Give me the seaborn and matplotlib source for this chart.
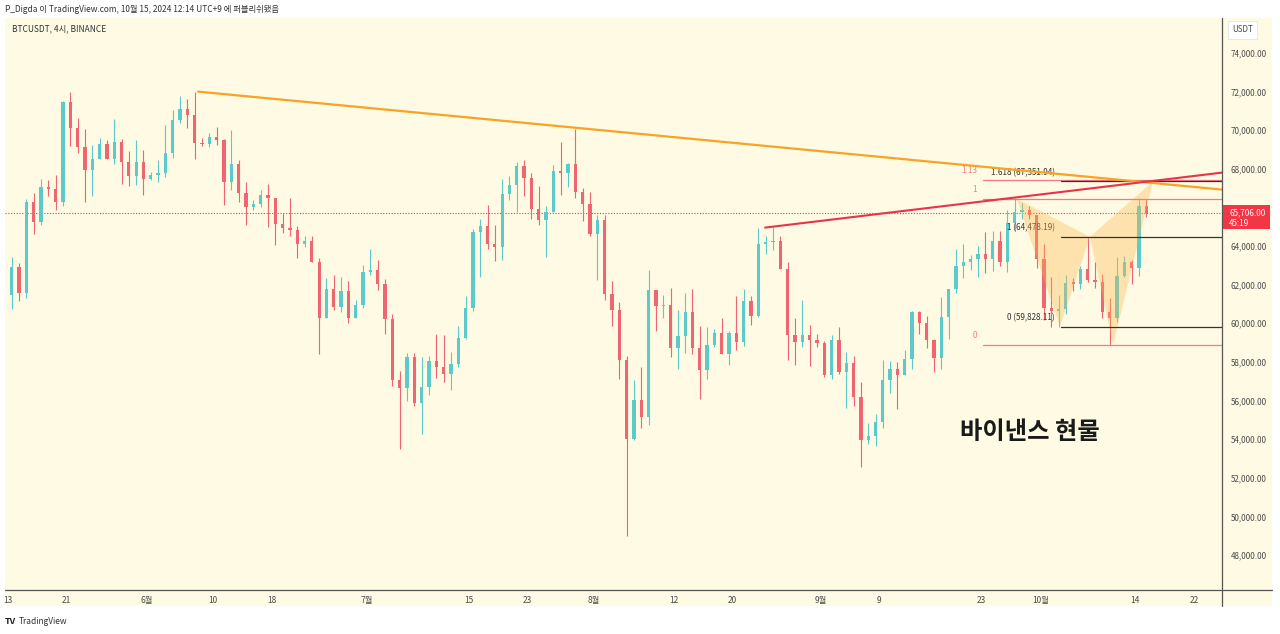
import numpy as np
import pandas as pd
import matplotlib
matplotlib.use("Agg")
import matplotlib.pyplot as plt
import matplotlib.dates as mdates
from matplotlib.patches import Rectangle, Polygon
from matplotlib.lines import Line2D
import seaborn as sns

# ==============================
# DATA  (daily OHLC)
# ==============================
dates = pd.date_range("2024-05-13", "2024-10-15", freq="D")

closes = [
    # May 13-31
    62940, 61580, 66270, 65230, 67050, 66940, 66280, 71450, 70140, 69120,
    67930, 68530, 69290, 68500, 69400, 68360, 67630, 68350, 67490,
    # June
    67700, 67760, 68800, 70550, 71080, 70790, 69350, 69300, 69650, 69500,
    67320, 68240, 66750, 66010, 66190, 66640, 66490, 65150, 64960, 64830,
    64100, 64250, 63180, 60280, 61800, 60860, 61670, 60300, 60930, 62680,
    # July
    62770, 62020, 60200, 57050, 56650, 58230, 55850, 56700, 58050, 57720,
    57350, 57900, 59230, 60790, 64720, 65040, 64090, 63970, 66680, 67150,
    68170, 67550, 65930, 65360, 65770, 67900, 67800, 68250, 66780, 66180, 64620,
    # August
    65350, 61500, 60680, 58100, 54020, 56040, 55130, 61700, 60880, 60940,
    58710, 59350, 60600, 58740, 57560, 58880, 59480, 58430, 59480, 59040,
    61160, 60380, 64100, 64200, 64250, 62830, 59420, 59030, 59370, 59120, 58970,
    # September
    57300, 59130, 57480, 57970, 56160, 53960, 54160, 54870, 57040, 57650,
    57340, 58130, 60570, 60000, 59130, 58210, 60310, 61760, 62950, 63200,
    63350, 63580, 63340, 64260, 63150, 65180, 65790, 65880, 65600, 63330,
    # October 1-15
    60800, 60630, 60750, 62090, 62060, 62820, 62220, 62130, 60580, 60270,
    62450, 63200, 62850, 66050, 65706,
]

highs = [
    63450, 63100, 66450, 66750, 67450, 67400, 67700, 71500, 71980, 70650,
    70050, 69250, 69580, 69500, 70600, 69550, 68900, 69500, 69000,
    67850, 68450, 70280, 71050, 71760, 71620, 71990, 69580, 69850, 70150,
    69560, 69990, 68450, 67300, 66400, 66900, 67190, 66500, 65720, 66480,
    65050, 64520, 64500, 63370, 62350, 62480, 62390, 62200, 61200, 63020,
    63860, 63300, 62280, 60500, 57550, 58480, 58470, 58240, 58300, 59450,
    59400, 58500, 59850, 61400, 64900, 65380, 66130, 65100, 67450, 67620,
    68370, 68480, 67800, 67100, 66100, 68200, 69400, 68300, 70080, 66990, 66800,
    65600, 65600, 62200, 61120, 58300, 57040, 57730, 62750, 61750, 61480,
    61850, 60700, 61580, 61800, 59850, 59800, 59700, 60250, 59600, 61400,
    61800, 61400, 64950, 64500, 65000, 64500, 63200, 60250, 61200, 59900, 59450,
    59060, 59400, 59800, 58500, 58300, 56980, 54850, 55300, 58100, 58040,
    57990, 58600, 60650, 60660, 60400, 59200, 61350, 61790, 63850, 64130,
    63560, 64000, 64740, 64800, 64800, 65850, 66500, 66250, 66080, 65620,
    64130, 62400, 61450, 62480, 62370, 62980, 64480, 63200, 62540, 61300,
    63420, 63480, 63280, 66480, 66420,
]

lows = [
    60750, 61150, 61330, 64600, 65100, 66600, 65850, 66060, 69160, 68840,
    66300, 66600, 68500, 68500, 68250, 67200, 67100, 67150, 66650,
    67400, 67300, 67600, 68560, 70380, 70120, 68500, 69200, 69150, 69230,
    66120, 66900, 66300, 65080, 65870, 66020, 65000, 64060, 64690, 64520,
    63380, 63940, 63180, 58400, 60250, 60710, 60600, 60000, 60300, 60780,
    62500, 61750, 59450, 56770, 53480, 56000, 55730, 54270, 56280, 57160,
    56960, 56570, 57750, 59200, 60650, 62400, 63870, 63240, 63300, 66400,
    65750, 66580, 65400, 65100, 63450, 65750, 66650, 67050, 66500, 65300, 64520,
    62250, 61200, 59850, 57120, 49000, 53960, 54560, 54750, 59600, 60280,
    58280, 57650, 58450, 58430, 56080, 57100, 58780, 58430, 57850, 58600,
    58800, 59900, 60350, 63600, 63800, 62800, 58100, 57850, 58750, 57800, 58780,
    57200, 57120, 57400, 55600, 55700, 52550, 53740, 53650, 54590, 56400,
    55550, 57330, 57630, 59450, 58700, 57500, 57620, 59200, 61580, 62350,
    62750, 62380, 62600, 62700, 62950, 62670, 64800, 65420, 65420, 62850,
    60160, 59830, 59830, 60460, 61670, 61800, 62120, 61850, 60300, 58900,
    60050, 62420, 62050, 62450, 65500,
]

first_open = 61480
opens = [first_open] + closes[:-1]

last_price = 65706
countdown = "45:19"

xtick_dates = ["2024-05-13", "2024-05-21", "2024-06-01", "2024-06-10", "2024-06-18",
               "2024-07-01", "2024-07-15", "2024-07-23", "2024-08-01", "2024-08-12",
               "2024-08-20", "2024-09-01", "2024-09-09", "2024-09-23", "2024-10-01",
               "2024-10-14", "2024-10-22"]
xtick_labels = ["13", "21", "6월", "10", "18", "7월", "15", "23", "8월", "12",
                "20", "9월", "9", "23", "10월", "14", "22"]
ytick_values = list(range(48000, 74001, 2000))

# trend lines
orange_x = ["2024-06-07 23:00", "2024-10-25 20:00"]
orange_y = [72000, 66925]
red_x = ["2024-08-24 10:00", "2024-10-25 20:00"]
red_y = [64957, 67805]

# harmonic pattern X-A-B-C-D
pattern_x = ["2024-09-27 19:00", "2024-10-03 17:00", "2024-10-07 19:00",
             "2024-10-10 23:00", "2024-10-16 10:00"]
pattern_y = [66450, 59828, 64478, 58895, 67352]

# fib levels
red_fib_start = "2024-09-23 05:00"
red_fib_labels = ["0", "1", "1.13"]
red_fib_prices = [58895, 66456, 67439]
blk_fib_start = "2024-10-03 20:00"
blk_fib_labels = ["0 (59,828.11)", "1 (64,478.19)", "1.618 (67,351.94)"]
blk_fib_prices = [59828.11, 64478.19, 67351.94]

x_left, x_right = "2024-05-12 14:00", "2024-10-25 20:00"
y_low, y_high = 46187, 75813

# ==============================
# STYLE
# ==============================
sns.set_style("white")
plt.rcParams['font.family'] = ['Noto Sans CJK KR', 'DejaVu Sans']

CREAM = "#fefae3"
UP = "#5cc9cb"
DOWN = "#ef6571"
TXT = "#4a4a4a"

W, H = 1280, 634
fig = plt.figure(figsize=(W / 100, H / 100), dpi=100, facecolor="white")


def fx(px):
    return px / W


def fy(py):
    return 1 - py / H


# cream chart panel (behind the axes)
fig.patches.append(Rectangle((fx(5), fy(606)), fx(1272) - fx(5), fy(18) - fy(606),
                             transform=fig.transFigure, facecolor=CREAM,
                             edgecolor="none", zorder=-5))

ax = fig.add_axes([fx(5), fy(590), fx(1222) - fx(5), fy(18) - fy(590)])
ax.set_facecolor(CREAM)
for s in ax.spines.values():
    s.set_visible(False)

tonum = lambda v: mdates.date2num(pd.to_datetime(v))

# ==============================
# CANDLES
# ==============================
x = mdates.date2num(dates) + 0.5
o = np.array(opens, dtype=float)
c = np.array(closes, dtype=float)
colors = np.where(c >= o, UP, DOWN)
ax.vlines(x, lows, highs, colors=colors, lw=0.8, zorder=2)
body = np.maximum(np.abs(c - o), 60)
ax.bar(x, body, bottom=np.minimum(o, c), width=0.45, color=colors,
       linewidth=0, zorder=3)

# current price dotted line
ax.axhline(last_price, color="#f23645", ls=(0, (1, 1.5)), lw=0.8, zorder=1)

# harmonic pattern fill
px_ = tonum(pattern_x)
for tri in [(0, 1, 2), (2, 3, 4)]:
    pts = [(px_[i], pattern_y[i]) for i in tri]
    ax.add_patch(Polygon(pts, closed=True, facecolor="#ffb74d", alpha=0.35,
                         edgecolor="none", zorder=4))

# trend lines
sns.lineplot(x=tonum(orange_x), y=orange_y, ax=ax, color="#f7a325", lw=1.6,
             zorder=6, legend=False)
sns.lineplot(x=tonum(red_x), y=red_y, ax=ax, color="#e8334a", lw=1.5,
             zorder=6, legend=False)

# fib levels
xr = tonum(x_right)
xs = tonum(red_fib_start)
for lab, p in zip(red_fib_labels, red_fib_prices):
    ax.plot([xs, xr], [p, p], color="#f07b86", lw=0.9, zorder=5)
    ax.annotate(lab, (xs, p), xytext=(-6, 9), textcoords="offset pixels",
                ha="right", va="center", fontsize=5.8, color="#f07b86")
xb = tonum(blk_fib_start)
for lab, p in zip(blk_fib_labels, blk_fib_prices):
    ax.plot([xb, xr], [p, p], color="#333333", lw=0.9, zorder=5)
    ax.annotate(lab, (xb, p), xytext=(-6, 9), textcoords="offset pixels",
                ha="right", va="center", fontsize=5.8, color="#333333")

ax.text(tonum("2024-09-29 14:00"), 54390, "바이낸스 현물", fontsize=17.5,
        fontweight="bold", color="#1a1a1a", ha="center", va="center")

# ==============================
# AXES
# ==============================
ax.set_xlim(tonum(x_left), xr)
ax.set_ylim(y_low, y_high)
ax.set_xticks(tonum(xtick_dates))
ax.set_xticklabels(xtick_labels)
ax.yaxis.tick_right()
ax.set_yticks(ytick_values)
ax.set_yticklabels([f"{v:,.2f}" for v in ytick_values])
ax.tick_params(axis="x", length=0, pad=4, labelsize=6, labelcolor=TXT)
ax.tick_params(axis="y", length=0, pad=6, labelsize=5.8, labelcolor=TXT)

# axis lines
fig.add_artist(Line2D([fx(5), fx(1272)], [fy(590), fy(590)], color="#555555",
                      lw=0.9, transform=fig.transFigure))
fig.add_artist(Line2D([fx(1222), fx(1222)], [fy(18), fy(606)], color="#555555",
                      lw=0.9, transform=fig.transFigure))

# price label on the scale
fig.patches.append(Rectangle((fx(1223), fy(229)), fx(1270) - fx(1223), fy(205) - fy(229),
                             transform=fig.transFigure, facecolor="#f23645",
                             edgecolor="none", zorder=5))
fig.text(fx(1229), fy(213), f"{last_price:,.2f}", fontsize=5.8, color="white",
         va="center", ha="left", zorder=6)
fig.text(fx(1229), fy(223), countdown, fontsize=5.8, color="white",
         va="center", ha="left", zorder=6)

# USDT box
fig.text(fx(1232), fy(30), "USDT", fontsize=5.8, color=TXT, va="center", ha="left",
         bbox=dict(boxstyle="square,pad=0.5", facecolor="white", edgecolor="#e6e6e6",
                   lw=0.6))

# header texts
fig.text(fx(5), fy(9), "P_Digda 이 TradingView.com, 10월 15, 2024 12:14 UTC+9 에 퍼블리쉬됐음",
         fontsize=6, color="#333333", va="center", ha="left")
fig.text(fx(12), fy(29), "BTCUSDT, 4시, BINANCE", fontsize=6, color="#333333",
         va="center", ha="left")

# footer logo
fig.text(fx(5), fy(621), "TV", fontsize=6.5, fontweight="bold", color="#222222",
         va="center", ha="left")
fig.text(fx(19), fy(621), "TradingView", fontsize=6, color="#333333",
         va="center", ha="left")

plt.savefig("out.png", dpi=100, facecolor="white")
